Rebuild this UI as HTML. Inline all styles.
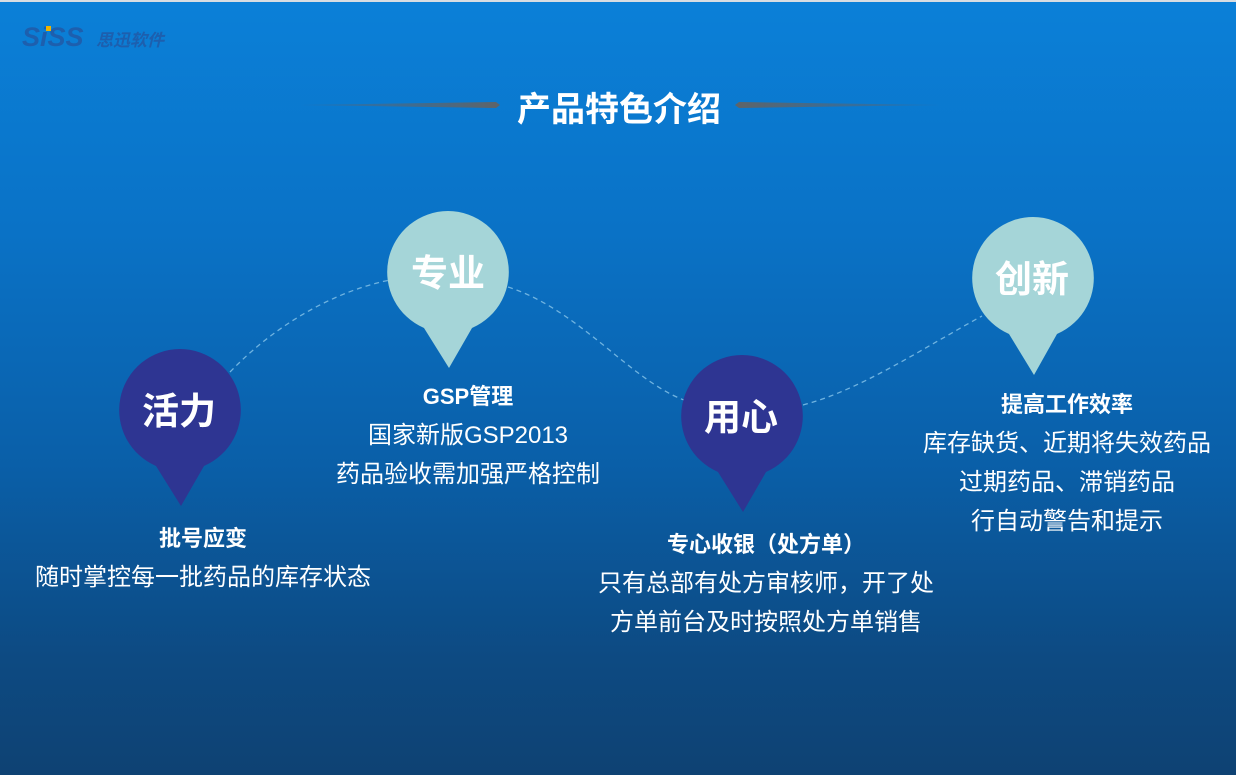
<!DOCTYPE html>
<html><head><meta charset="utf-8"><style>
body{margin:0;width:1236px;height:775px;overflow:hidden;font-family:"Liberation Sans","Noto Sans CJK SC",sans-serif;}
#bg{position:absolute;left:0;top:0;width:1236px;height:775px;background:linear-gradient(180deg,#0b80d8 0%,#0a72c6 30%,#0a5fa8 60%,#0d4a82 85%,#0e4273 100%);}
.t{position:absolute;color:#fff;text-align:center;white-space:nowrap;transform:translateX(-50%);font-size:24px;line-height:39px;}
.t b{font-size:22px;}
</style></head><body>
<div id="bg"></div>
<div style="position:absolute;left:0;top:0;width:1236px;height:2px;background:#d8dde2"></div>
<svg width="1236" height="775" style="position:absolute;left:0;top:0">
<defs>
<linearGradient id="ln" x1="0" x2="1"><stop offset="0" stop-color="#5a6470" stop-opacity="0.2"/><stop offset="1" stop-color="#5f6468"/></linearGradient>
<linearGradient id="rn" x1="0" x2="1"><stop offset="0" stop-color="#5f6468"/><stop offset="1" stop-color="#5a6470" stop-opacity="0.2"/></linearGradient>
</defs>
<text x="22" y="46" font-family="Liberation Sans" font-weight="bold" font-style="italic" font-size="27" fill="#1d5fae">SiSS</text>
<rect x="46" y="26" width="5" height="5" fill="#f0b400"/>
<text x="96" y="46" font-family="Noto Sans CJK SC" font-weight="bold" font-style="italic" font-size="17" fill="#1d5fae">思迅软件</text>
<polygon points="300,105 496,102 500,105 496,108" fill="url(#ln)"/>
<polygon points="735,105 739,102 940,105 739,108" fill="url(#rn)"/>
<text x="619" y="121" text-anchor="middle" font-family="Noto Sans CJK SC" font-weight="bold" font-size="34" fill="#fff">产品特色介绍</text>
<g fill="none" stroke="#6fb3e0" stroke-width="1.3" stroke-dasharray="5,4">
<path d="M230,372 C280,320 340,290 390,280"/>
<path d="M508,287 C580,310 630,380 684,400"/>
<path d="M803,405 C860,390 920,350 982,316"/>
</g>
<g font-family="Noto Sans CJK SC" font-weight="bold" font-size="37" text-anchor="middle" fill="#fff">
<path d="M180,349 a61,61 0 0 1 24,117 L181,506 L156,466 A61,61 0 0 1 180,349Z" fill="#2e3592"/>
<text x="179" y="424">活力</text>
<path d="M448,211 a61,61 0 0 1 24,117 L449,368 L424,328 A61,61 0 0 1 448,211Z" fill="#a5d5d8"/>
<text x="448" y="286">专业</text>
<path d="M742,355 a61,61 0 0 1 24,117 L743,512 L718,472 A61,61 0 0 1 742,355Z" fill="#2e3592"/>
<text x="741" y="430">用心</text>
<path d="M1033,217 a61,61 0 0 1 24,117 L1034,375 L1009,334 A61,61 0 0 1 1033,217Z" fill="#a5d5d8"/>
<text x="1032" y="292">创新</text>
</g>
</svg>
<div class="t" style="left:203px;top:519px"><b>批号应变</b><br>随时掌控每一批药品的库存状态</div>
<div class="t" style="left:468px;top:377px"><b>GSP管理</b><br>国家新版GSP2013<br>药品验收需加强严格控制</div>
<div class="t" style="left:766px;top:525px"><b>专心收银（处方单）</b><br>只有总部有处方审核师，开了处<br>方单前台及时按照处方单销售</div>
<div class="t" style="left:1067px;top:385px"><b>提高工作效率</b><br>库存缺货、近期将失效药品<br>过期药品、滞销药品<br>行自动警告和提示</div>
</body></html>
